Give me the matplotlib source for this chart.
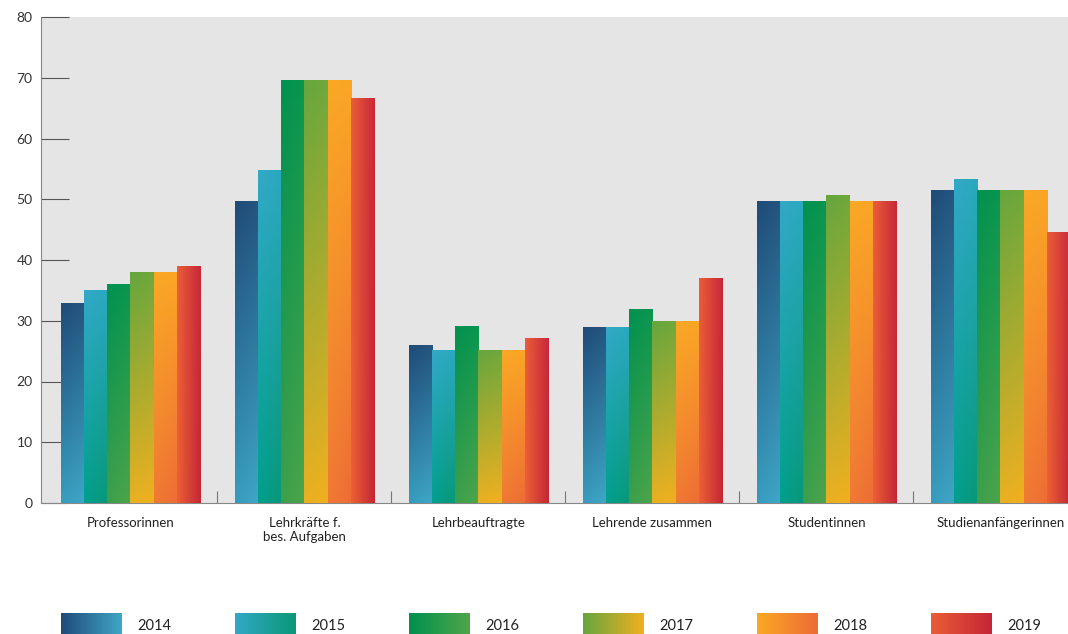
import numpy as np
import matplotlib
matplotlib.use("Agg")
import matplotlib.pyplot as plt
from matplotlib.colors import to_rgb

plt.rcParams['font.family'] = ['Lato', 'DejaVu Sans']

categories = ['Professorinnen', 'Lehrkräfte f.\nbes. Aufgaben', 'Lehrbeauftragte',
              'Lehrende zusammen', 'Studentinnen', 'Studienanfängerinnen']
years = ['2014', '2015', '2016', '2017', '2018', '2019']
v2014 = [33, 49.7, 26, 29, 49.7, 51.6]
v2015 = [35, 54.8, 25.2, 29, 49.7, 53.4]
v2016 = [36, 69.7, 29.2, 32, 49.7, 51.6]
v2017 = [38, 69.7, 25.2, 30, 50.7, 51.6]
v2018 = [38, 69.7, 25.2, 30, 49.7, 51.6]
v2019 = [39, 66.7, 27.2, 37, 49.7, 44.6]
series = [v2014, v2015, v2016, v2017, v2018, v2019]

# corner colours for each year: top-left, top-right, bottom-left, bottom-right
grads = [
    ('#1f4b79', '#25567f', '#379bbd', '#3fa6c6'),
    ('#33a8c6', '#2aa9bf', '#00a08f', '#0a9878'),
    ('#02914f', '#0a9650', '#3c9f4c', '#4ea54a'),
    ('#66a63e', '#70a83c', '#e8b022', '#f0b020'),
    ('#f9a825', '#fba626', '#f07a33', '#ee6c36'),
    ('#ea5d38', '#c8283a', '#ec6034', '#c42636'),
]


def grad_img(cols, n=48):
    tl, tr, bl, br = [np.array(to_rgb(c)) for c in cols]
    t = np.linspace(0, 1, n)[:, None, None]
    s = np.linspace(0, 1, n)[None, :, None]
    top = tl * (1 - s) + tr * s
    bot = bl * (1 - s) + br * s
    return top * (1 - t) + bot * t


fig = plt.figure(figsize=(10.68, 6.34), dpi=100)
ax = fig.add_axes([41 / 1068, 131 / 634, 1 - 41 / 1068, 486 / 634])
ax.set_facecolor('#e5e5e5')

x = np.arange(len(categories))
w = 0.8 / len(years)
for i, vals in enumerate(series):
    bars = ax.bar(x - 0.4 + w * (i + 0.5), vals, w, color=grads[i][0], zorder=2)
    for b in bars:
        x0, y0 = b.get_x(), b.get_y()
        im = ax.imshow(grad_img(grads[i]), extent=[x0, x0 + b.get_width(), y0, y0 + b.get_height()],
                       aspect='auto', interpolation='bilinear', zorder=3)
        im.set_clip_path(b)

ax.set_xlim(-0.514, 5.388)
ax.set_ylim(0, 80)
ax.set_yticks(range(0, 81, 10))
ax.tick_params(axis='y', direction='in', length=20, width=0.8, color='#555555',
               labelsize=10, labelcolor='#333333', pad=6)
ax.set_xticks(x)
ax.set_xticklabels(categories, fontsize=9.5, color='#222222')
ax.tick_params(axis='x', length=0, pad=10)
ax.set_xticks(x[:-1] + 0.5, minor=True)
ax.tick_params(axis='x', which='minor', direction='in', length=9, width=0.8, color='#777777')
for sp in ['top', 'right']:
    ax.spines[sp].set_visible(False)
ax.spines['left'].set_color('#888888')
ax.spines['bottom'].set_color('#888888')
ax.spines['left'].set_linewidth(0.8)
ax.spines['bottom'].set_linewidth(0.8)

# legend with gradient swatches
lax = fig.add_axes([41 / 1068, 0, 1 - 41 / 1068, 21 / 634])
lax.set_xlim(-0.514, 5.388)
lax.set_ylim(0, 1)
lax.axis('off')
for i, yr in enumerate(years):
    x0 = i - 0.4
    lax.imshow(grad_img((grads[i][0], grads[i][3], grads[i][0], grads[i][3])),
               extent=[x0, x0 + 0.345, 0, 1.4], aspect='auto', interpolation='bilinear')
    lax.text(x0 + 0.437, 0.38, yr, fontsize=10.5, color='#222222', va='center')
lax.set_xlim(-0.514, 5.388)
lax.set_ylim(0, 1)

fig.savefig('out.png', dpi=100)
